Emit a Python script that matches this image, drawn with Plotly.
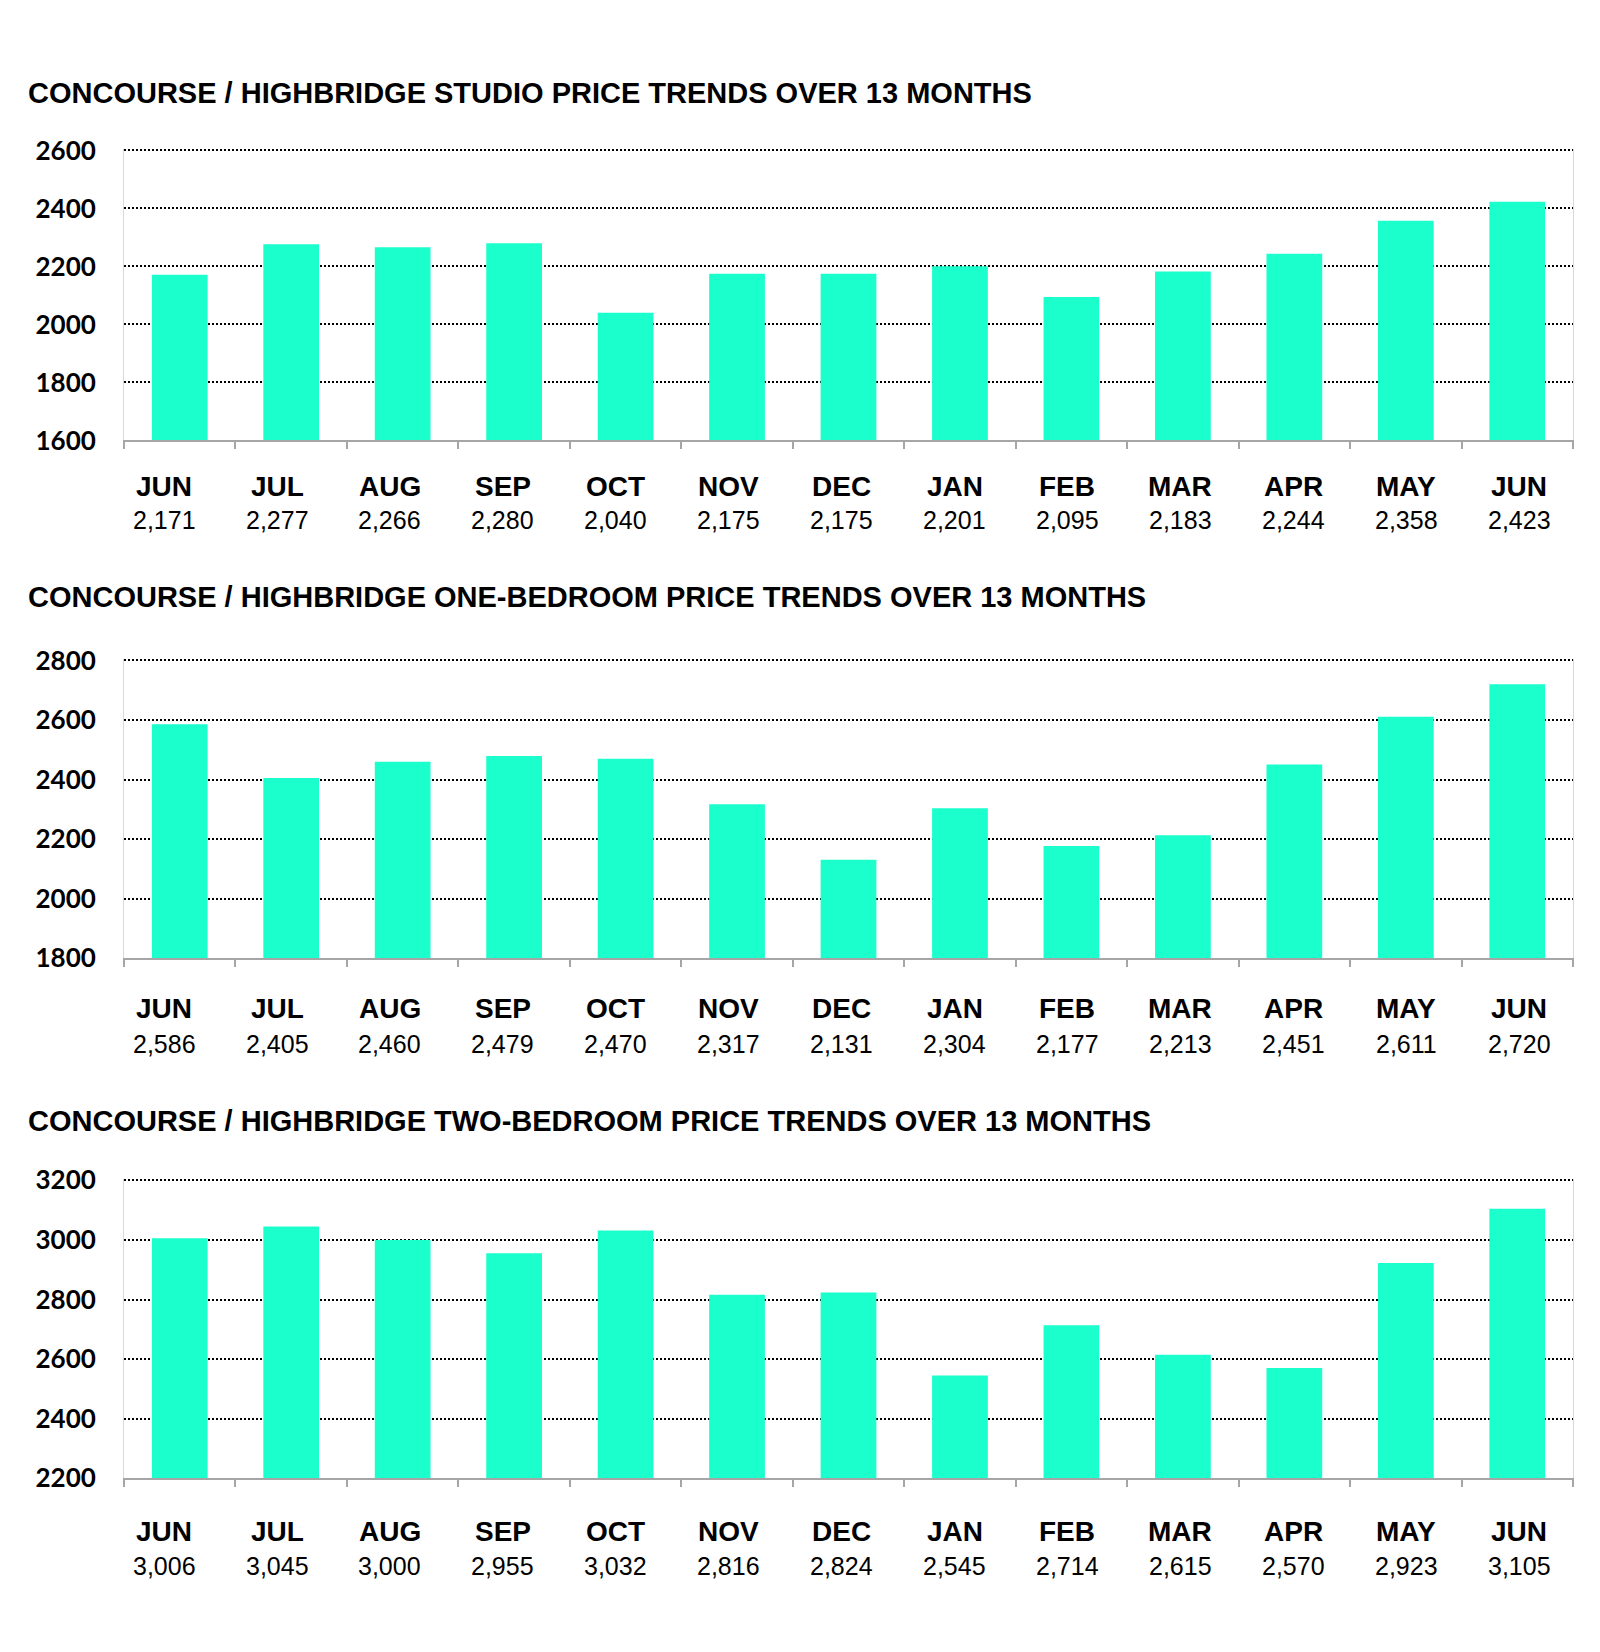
import plotly.graph_objects as go

months = ["JUN", "JUL", "AUG", "SEP", "OCT", "NOV", "DEC", "JAN", "FEB", "MAR", "APR", "MAY", "JUN"]
studio = [2171, 2277, 2266, 2280, 2040, 2175, 2175, 2201, 2095, 2183, 2244, 2358, 2423]
one_bed = [2586, 2405, 2460, 2479, 2470, 2317, 2131, 2304, 2177, 2213, 2451, 2611, 2720]
two_bed = [3006, 3045, 3000, 2955, 3032, 2816, 2824, 2545, 2714, 2615, 2570, 2923, 3105]

titles = [
    "CONCOURSE / HIGHBRIDGE STUDIO PRICE TRENDS OVER 13 MONTHS",
    "CONCOURSE / HIGHBRIDGE ONE-BEDROOM PRICE TRENDS OVER 13 MONTHS",
    "CONCOURSE / HIGHBRIDGE TWO-BEDROOM PRICE TRENDS OVER 13 MONTHS",
]
y_ranges = [(1600, 2600), (1800, 2800), (2200, 3200)]
series = [studio, one_bed, two_bed]

W, H = 1600, 1652
BAR = "#1AFFCC"
TXT = "Liberation Sans, Arial, sans-serif"
TICKF = "Lato, Carlito, Calibri, sans-serif"

# target pixel layout (top, bottom) of each plot area, title y, month y, value y
panels = [
    dict(top=150, bot=440, title=93, mon=486, val=520),
    dict(top=660, bot=958, title=597, mon=1008, val=1044),
    dict(top=1180, bot=1478, title=1121, mon=1531, val=1566),
]
x0, x1 = 124, 1573
EPS = 4  # small headroom so the top gridline is drawn


def adj(p):
    # empirical vertical calibration of the rendered page
    return 1.019 * p - 15.8


def py(p):
    return 1 - adj(p) / H


fig = go.Figure()
annotations = []
n = len(months)
for k, (vals, title, yr, pn) in enumerate(zip(series, titles, y_ranges, panels)):
    sfx = "" if k == 0 else str(k + 1)
    xs = list(range(n))
    fig.add_trace(go.Bar(
        x=xs, y=vals, marker=dict(color=BAR, line=dict(width=0)),
        width=0.5, xaxis="x" + sfx, yaxis="y" + sfx, showlegend=False,
        hoverinfo="y",
    ))
    pxper = (pn["bot"] - pn["top"]) / (yr[1] - yr[0])
    top_px = pn["top"] - EPS * pxper
    fig.layout["xaxis" + sfx] = dict(
        domain=[x0 / W, x1 / W], anchor="y" + sfx,
        range=[-0.5, n - 0.5], tickmode="array",
        tickvals=[i - 0.5 for i in range(n + 1)], showticklabels=False,
        ticks="outside", ticklen=7, tickcolor="#a6a6a6", tickwidth=1.5,
        showline=True, linecolor="#a6a6a6", linewidth=2,
        showgrid=False, zeroline=False, fixedrange=True,
    )
    fig.layout["yaxis" + sfx] = dict(
        domain=[py(pn["bot"]), py(top_px)], anchor="x" + sfx,
        range=[yr[0], yr[1] + EPS], tickmode="array",
        tickvals=list(range(yr[0], yr[1] + 1, 200)),
        showgrid=True, gridcolor="#000000", gridwidth=2, griddash="2px,2px",
        showline=True, linecolor="#d9d9d9", linewidth=1, mirror=True,
        ticks="", ticklabelstandoff=22,
        tickfont=dict(family=TICKF, size=26, color="#000000", weight="bold"),
        zeroline=False, fixedrange=True, layer="below traces",
    )
    annotations.append(dict(
        text="<b>" + title + "</b>", xref="paper", yref="paper",
        x=26 / W, y=py(pn["title"]), xanchor="left", yanchor="middle",
        showarrow=False, font=dict(family=TXT, size=29, color="#000000"),
    ))
    for i, (m, v) in enumerate(zip(months, vals)):
        xpos = -0.14 + i * 1.013
        annotations.append(dict(
            text="<b>" + m + "</b>", xref="x" + sfx, yref="paper",
            x=xpos, y=py(pn["mon"]), xanchor="center", yanchor="middle",
            showarrow=False, font=dict(family=TXT, size=28, color="#000000"),
        ))
        annotations.append(dict(
            text=f"{v:,}", xref="x" + sfx, yref="paper",
            x=xpos, y=py(pn["val"]), xanchor="center", yanchor="middle",
            showarrow=False, font=dict(family=TXT, size=25, color="#000000"),
        ))

fig.update_layout(
    width=W, height=H, margin=dict(l=0, r=0, t=0, b=0),
    paper_bgcolor="white", plot_bgcolor="white",
    annotations=annotations, bargap=0.5,
)
fig.write_html("out.html")
